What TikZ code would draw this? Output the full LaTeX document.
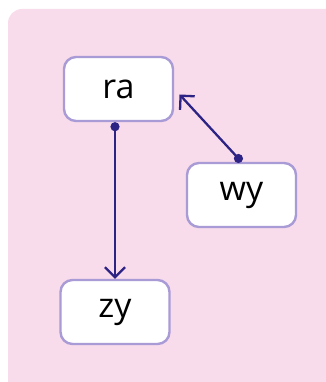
\documentclass[tikz,border=0pt]{standalone}
\usepackage{fontspec}
\setmainfont{Open Sans}
\usetikzlibrary{arrows.meta}
\definecolor{bgpink}{HTML}{F9DCEB}
\definecolor{nodeborder}{HTML}{A99BD6}
\definecolor{edgecol}{HTML}{2D2385}
\begin{document}
\begin{tikzpicture}[x=1pt,y=-1pt,
  box/.style={draw=nodeborder, line width=2.4pt, fill=white, rounded corners=12pt,
    minimum width=109pt, minimum height=64pt, inner sep=0pt, font=\fontsize{34}{40}\selectfont},
  link/.style={draw=edgecol, line width=2.3pt, {Circle[length=9pt]}-{Straight Barb[length=10pt,width=20pt,line width=2.3pt]}}]
\useasboundingbox (0,0) rectangle (325,382);
\fill[bgpink, rounded corners=14pt] (8,9) rectangle (345,400);
\node[box] (ra) at (118.5,89) {ra};
\node[box] (wy) at (241.5,195) {wy};
\node[box] (zy) at (115,312) {zy};
\coordinate (tip) at (179.5,94.5);
\draw[link] (ra.south -| zy.north) -- (zy.north);
\draw[link] (wy.north) -- (tip);
\end{tikzpicture}
\end{document}
